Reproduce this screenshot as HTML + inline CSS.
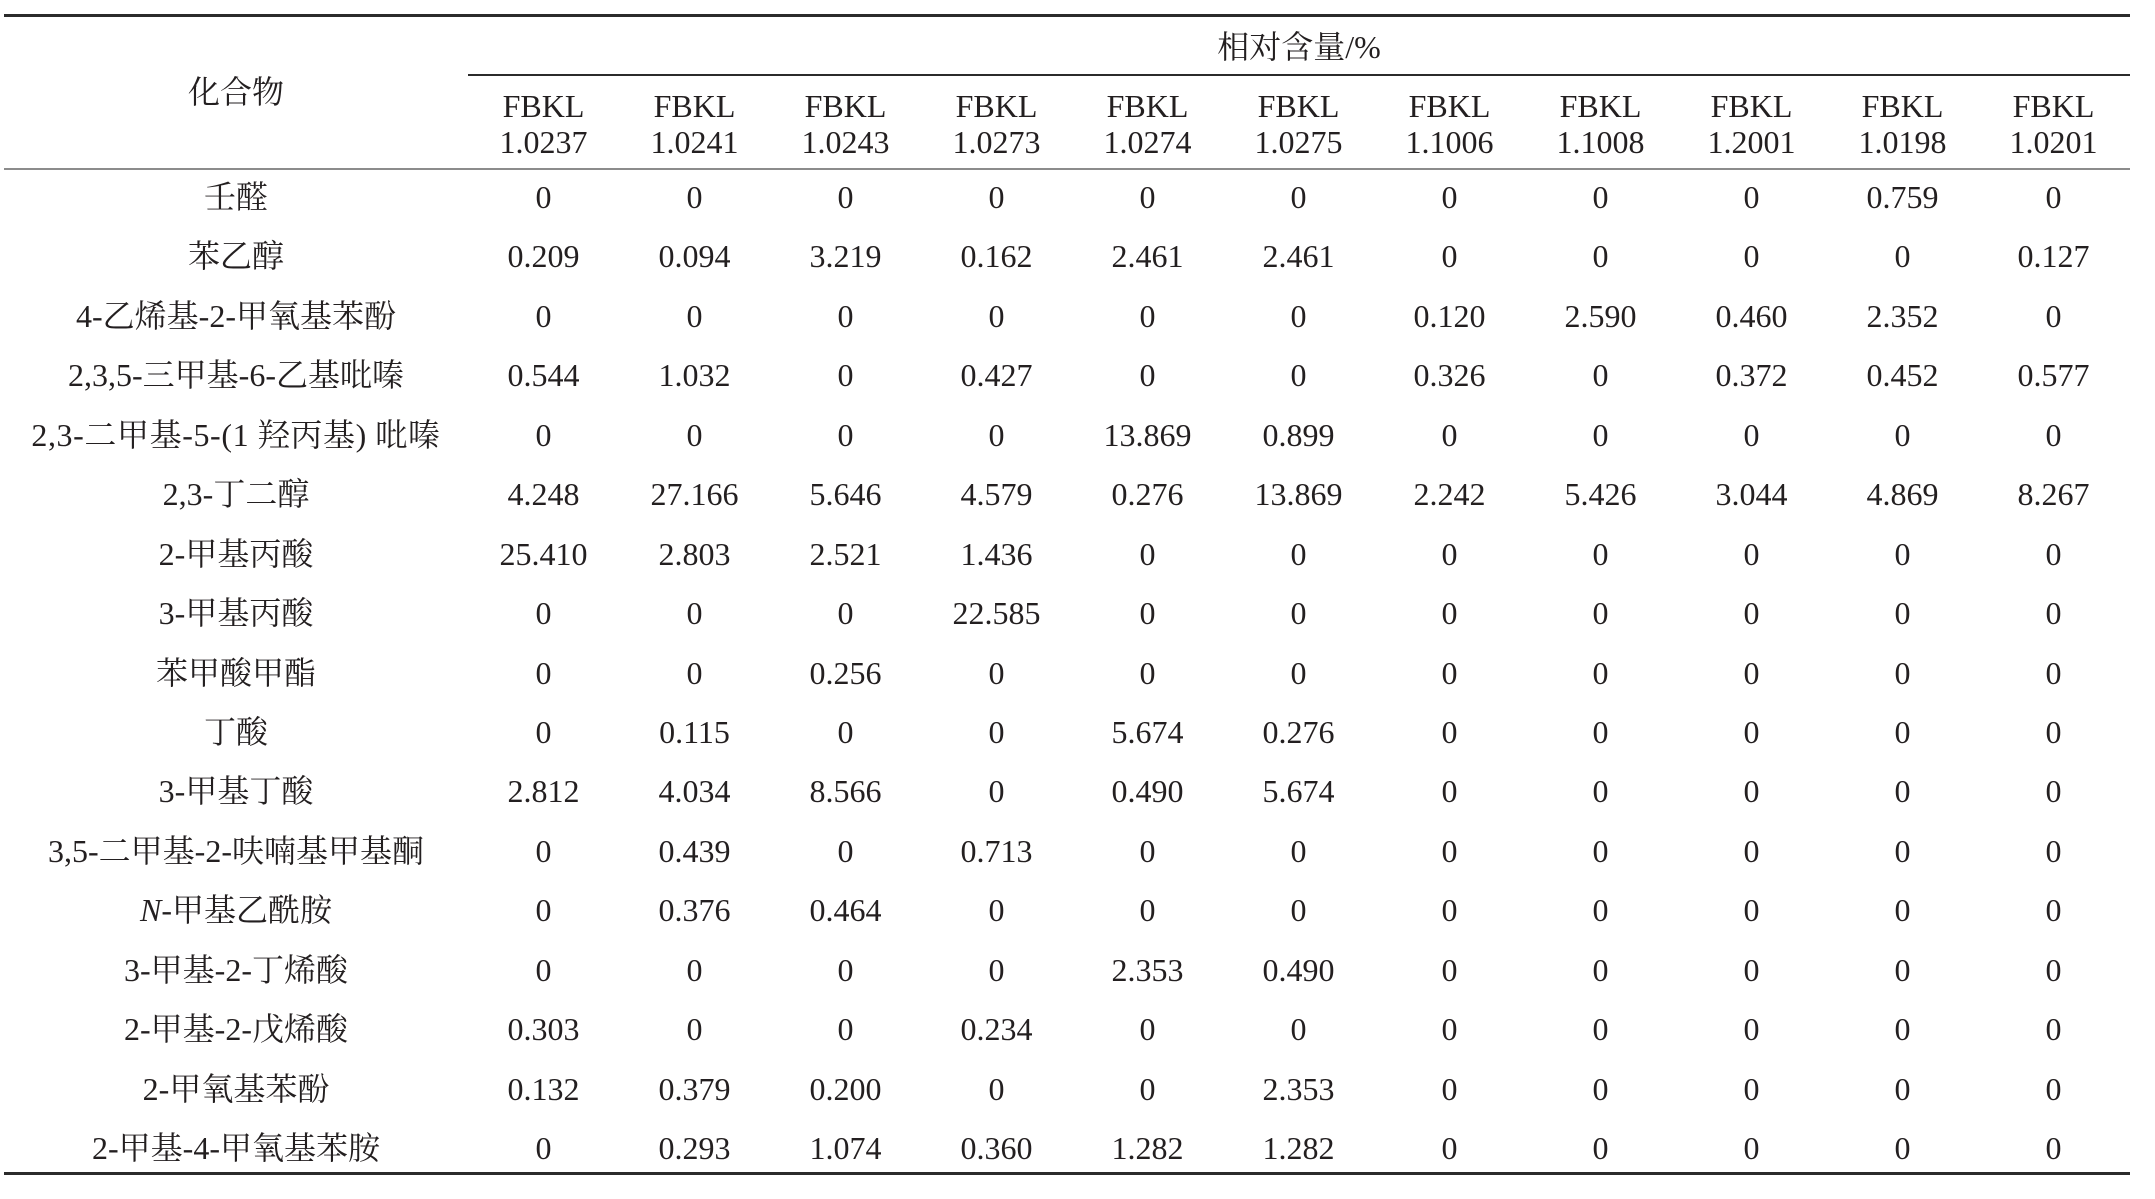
<!DOCTYPE html>
<html>
<head>
<meta charset="utf-8">
<style>
html,body{margin:0;padding:0;background:#fff;}
body{width:2155px;height:1199px;position:relative;overflow:hidden;
font-family:"Liberation Serif","Noto Serif CJK SC",serif;font-size:32px;color:#231f20;}
.ln{position:absolute;}
.t{position:absolute;text-align:center;white-space:nowrap;height:40px;line-height:40px;}
.r{position:absolute;left:4px;display:flex;height:40px;line-height:40px;white-space:nowrap;}
.r span{display:block;width:151px;text-align:center;}
.r span.l{width:464px;}
.h{position:absolute;width:151px;text-align:center;white-space:nowrap;line-height:36px;}
</style>
</head>
<body>
<div class="ln" style="left:4px;top:14px;width:2126px;height:3px;background:#2b2b2b;"></div>
<div class="ln" style="left:468px;top:74px;width:1662px;height:2px;background:#2b2b2b;"></div>
<div class="ln" style="left:4px;top:168px;width:2126px;height:2px;background:#8c8c8c;"></div>
<div class="ln" style="left:4px;top:1172px;width:2126px;height:3px;background:#2b2b2b;"></div>

<div class="t" style="left:4px;width:464px;top:72px;">化合物</div>
<div class="t" style="left:468px;width:1662px;top:27px;">相对含量/%</div>

<div class="h" style="left:468px;top:88px;">FBKL<br>1.0237</div>
<div class="h" style="left:619px;top:88px;">FBKL<br>1.0241</div>
<div class="h" style="left:770px;top:88px;">FBKL<br>1.0243</div>
<div class="h" style="left:921px;top:88px;">FBKL<br>1.0273</div>
<div class="h" style="left:1072px;top:88px;">FBKL<br>1.0274</div>
<div class="h" style="left:1223px;top:88px;">FBKL<br>1.0275</div>
<div class="h" style="left:1374px;top:88px;">FBKL<br>1.1006</div>
<div class="h" style="left:1525px;top:88px;">FBKL<br>1.1008</div>
<div class="h" style="left:1676px;top:88px;">FBKL<br>1.2001</div>
<div class="h" style="left:1827px;top:88px;">FBKL<br>1.0198</div>
<div class="h" style="left:1978px;top:88px;">FBKL<br>1.0201</div>

<div class="r" style="top:177px"><span class="l">壬醛</span><span>0</span><span>0</span><span>0</span><span>0</span><span>0</span><span>0</span><span>0</span><span>0</span><span>0</span><span>0.759</span><span>0</span></div>
<div class="r" style="top:236px"><span class="l">苯乙醇</span><span>0.209</span><span>0.094</span><span>3.219</span><span>0.162</span><span>2.461</span><span>2.461</span><span>0</span><span>0</span><span>0</span><span>0</span><span>0.127</span></div>
<div class="r" style="top:296px"><span class="l">4-乙烯基-2-甲氧基苯酚</span><span>0</span><span>0</span><span>0</span><span>0</span><span>0</span><span>0</span><span>0.120</span><span>2.590</span><span>0.460</span><span>2.352</span><span>0</span></div>
<div class="r" style="top:355px"><span class="l">2,3,5-三甲基-6-乙基吡嗪</span><span>0.544</span><span>1.032</span><span>0</span><span>0.427</span><span>0</span><span>0</span><span>0.326</span><span>0</span><span>0.372</span><span>0.452</span><span>0.577</span></div>
<div class="r" style="top:415px"><span class="l" style="letter-spacing:0.6px">2,3-二甲基-5-(1 羟丙基) 吡嗪</span><span>0</span><span>0</span><span>0</span><span>0</span><span>13.869</span><span>0.899</span><span>0</span><span>0</span><span>0</span><span>0</span><span>0</span></div>
<div class="r" style="top:474px"><span class="l">2,3-丁二醇</span><span>4.248</span><span>27.166</span><span>5.646</span><span>4.579</span><span>0.276</span><span>13.869</span><span>2.242</span><span>5.426</span><span>3.044</span><span>4.869</span><span>8.267</span></div>
<div class="r" style="top:534px"><span class="l">2-甲基丙酸</span><span>25.410</span><span>2.803</span><span>2.521</span><span>1.436</span><span>0</span><span>0</span><span>0</span><span>0</span><span>0</span><span>0</span><span>0</span></div>
<div class="r" style="top:593px"><span class="l">3-甲基丙酸</span><span>0</span><span>0</span><span>0</span><span>22.585</span><span>0</span><span>0</span><span>0</span><span>0</span><span>0</span><span>0</span><span>0</span></div>
<div class="r" style="top:653px"><span class="l">苯甲酸甲酯</span><span>0</span><span>0</span><span>0.256</span><span>0</span><span>0</span><span>0</span><span>0</span><span>0</span><span>0</span><span>0</span><span>0</span></div>
<div class="r" style="top:712px"><span class="l">丁酸</span><span>0</span><span>0.115</span><span>0</span><span>0</span><span>5.674</span><span>0.276</span><span>0</span><span>0</span><span>0</span><span>0</span><span>0</span></div>
<div class="r" style="top:771px"><span class="l">3-甲基丁酸</span><span>2.812</span><span>4.034</span><span>8.566</span><span>0</span><span>0.490</span><span>5.674</span><span>0</span><span>0</span><span>0</span><span>0</span><span>0</span></div>
<div class="r" style="top:831px"><span class="l">3,5-二甲基-2-呋喃基甲基酮</span><span>0</span><span>0.439</span><span>0</span><span>0.713</span><span>0</span><span>0</span><span>0</span><span>0</span><span>0</span><span>0</span><span>0</span></div>
<div class="r" style="top:890px"><span class="l"><i>N</i>-甲基乙酰胺</span><span>0</span><span>0.376</span><span>0.464</span><span>0</span><span>0</span><span>0</span><span>0</span><span>0</span><span>0</span><span>0</span><span>0</span></div>
<div class="r" style="top:950px"><span class="l">3-甲基-2-丁烯酸</span><span>0</span><span>0</span><span>0</span><span>0</span><span>2.353</span><span>0.490</span><span>0</span><span>0</span><span>0</span><span>0</span><span>0</span></div>
<div class="r" style="top:1009px"><span class="l">2-甲基-2-戊烯酸</span><span>0.303</span><span>0</span><span>0</span><span>0.234</span><span>0</span><span>0</span><span>0</span><span>0</span><span>0</span><span>0</span><span>0</span></div>
<div class="r" style="top:1069px"><span class="l">2-甲氧基苯酚</span><span>0.132</span><span>0.379</span><span>0.200</span><span>0</span><span>0</span><span>2.353</span><span>0</span><span>0</span><span>0</span><span>0</span><span>0</span></div>
<div class="r" style="top:1128px"><span class="l">2-甲基-4-甲氧基苯胺</span><span>0</span><span>0.293</span><span>1.074</span><span>0.360</span><span>1.282</span><span>1.282</span><span>0</span><span>0</span><span>0</span><span>0</span><span>0</span></div>
</body>
</html>
